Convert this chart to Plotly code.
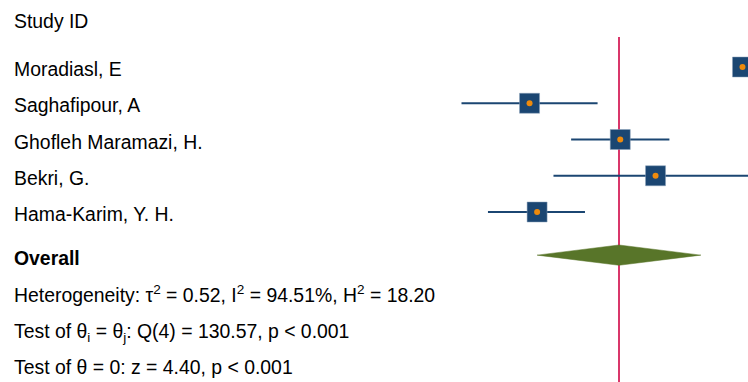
import plotly.graph_objects as go

# ---- data ----
studies = ["Moradiasl, E", "Saghafipour, A", "Ghofleh Maramazi, H.", "Bekri, G.", "Hama-Karim, Y. H."]
est = [2.43, 0.74, 1.46, 1.74, 0.80]
ci_lo = [2.37, 0.20, 1.07, 0.93, 0.41]
ci_hi = [2.49, 1.28, 1.85, 2.55, 1.18]
overall_est = 1.45
overall_lo = 0.80
overall_hi = 2.10
header = "Study ID"
overall_label = "<b>Overall</b>"
stats_lines = [
    "Heterogeneity: τ<sup>2</sup> = 0.52, I<sup>2</sup> = 94.51%, H<sup>2</sup> = 18.20",
    "Test of θ<sub>i</sub> = θ<sub>j</sub>: Q(4) = 130.57, p < 0.001",
    "Test of θ = 0: z = 4.40, p < 0.001",
]

# ---- style ----
W, H = 748, 382
NAVY = "#1b4672"
ORANGE = "#ee8a0c"
RED = "#d9366a"
GREEN = "#587529"
FONT = "Liberation Sans"
FS = 19.4

rows = list(range(len(studies)))
overall_row = 5.19
stat_rows = [6.25, 7.32, 8.28]
header_row = -1.27

fig = go.Figure()

# CI lines
for r, lo, hi in zip(rows, ci_lo, ci_hi):
    fig.add_trace(go.Scatter(x=[lo, hi], y=[r, r], mode="lines",
                             line=dict(color=NAVY, width=2), hoverinfo="skip", showlegend=False))

# squares
fig.add_trace(go.Scatter(x=est, y=rows, mode="markers",
                         marker=dict(symbol="square", size=20, color=NAVY,
                                     line=dict(color="#8aa0b8", width=0.5)),
                         showlegend=False))
# dots
fig.add_trace(go.Scatter(x=est, y=rows, mode="markers",
                         marker=dict(symbol="circle", size=6, color=ORANGE),
                         showlegend=False))

# diamond
dh = 0.28
fig.add_trace(go.Scatter(
    x=[overall_lo, overall_est, overall_hi, overall_est, overall_lo],
    y=[overall_row, overall_row - dh, overall_row, overall_row + dh, overall_row],
    mode="lines", fill="toself", fillcolor=GREEN, line=dict(color=GREEN, width=0.5),
    showlegend=False, hoverinfo="skip"))

# overall vertical line (behind markers)
fig.add_shape(type="line", xref="x", yref="paper", x0=overall_est, x1=overall_est,
              y0=0, y1=1 - 37 / H, line=dict(color=RED, width=2), layer="below")

# text
tx = 12 / W
ann = [dict(text=header, x=tx, y=header_row)]
for r, s in zip(rows, studies):
    ann.append(dict(text=s, x=tx, y=r + 0.06))
ann.append(dict(text=overall_label, x=tx, y=overall_row + 0.08))
for r, s in zip(stat_rows, stats_lines):
    ann.append(dict(text=s, x=tx, y=r))
for a in ann:
    fig.add_annotation(xref="paper", yref="y", xanchor="left", yanchor="middle",
                       showarrow=False, font=dict(family=FONT, size=FS, color="#000000"), **a)

# axes: px -> data
px_per_unit = 126.0
x0_px = 619.0
xmin = overall_est + (0 - x0_px) / px_per_unit
xmax = overall_est + (W - x0_px) / px_per_unit
row_px = 36.25
y0_px = 67.0
ytop = (0 - y0_px) / row_px
ybot = (H - y0_px) / row_px

fig.update_xaxes(range=[xmin, xmax], visible=False, domain=[0, 1])
fig.update_yaxes(range=[ybot, ytop], visible=False, domain=[0, 1])
fig.update_layout(width=W, height=H, margin=dict(l=0, r=0, t=0, b=0),
                  plot_bgcolor="white", paper_bgcolor="white",
                  font=dict(family=FONT, size=FS))

fig.write_html("out.html", config={"displayModeBar": False},
               post_script="document.body.style.margin='0';document.body.style.overflow='hidden';")
